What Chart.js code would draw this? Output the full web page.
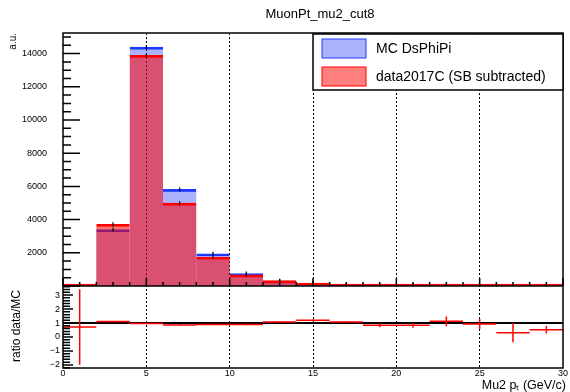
<!DOCTYPE html>
<html>
<head>
<meta charset="utf-8">
<script src="https://cdn.jsdelivr.net/npm/chart.js@4.4.1/dist/chart.umd.min.js"></script>
<style>
  body { margin: 0; background: #fff; }
</style>
</head>
<body>
<canvas id="myChart" width="570" height="392"></canvas>
<script>
// 2 GeV/c wide bins from 0 to 30
const bin_centers = [1, 3, 5, 7, 9, 11, 13, 15, 17, 19, 21, 23, 25, 27, 29];
const bin_width = 2;
const mc_values = [2.8, 3400, 14390, 5820, 1940, 750, 300, 145, 65, 32, 18, 11, 7, 4.5, 3];
const data_values = [2, 3720, 13890, 4990, 1740, 670, 322, 172, 70, 27, 15, 12, 6.5, 1.4, 1.6];
const ratio_values = [0.72, 1.1, 0.965, 0.86, 0.9, 0.89, 1.07, 1.19, 1.07, 0.84, 0.84, 1.12, 0.93, 0.31, 0.52];
const ratio_errors = [2.7, 0.05, 0.02, 0.03, 0.04, 0.05, 0.06, 0.06, 0.07, 0.14, 0.18, 0.35, 0.36, 0.69, 0.27];
const x_ticks = [0, 5, 10, 15, 20, 25, 30];
const y_ticks = [2000, 4000, 6000, 8000, 10000, 12000, 14000];
const ratio_ticks = [-2, -1, 0, 1, 2, 3];

const mc_fill = "rgba(0, 20, 240, 0.33)";
const mc_line = "rgb(30, 60, 255)";
const data_fill = "rgba(255, 0, 0, 0.55)";
const data_line = "rgb(255, 0, 0)";

Chart.defaults.font.family = "'Liberation Sans', Arial, sans-serif";
Chart.defaults.color = "#000";

let mc_points = [];
let data_points = [];
let ratio_bins = [];
let ratio_bars = [];
for (let i = 0; i < bin_centers.length; i++) {
  let c = bin_centers[i];
  mc_points.push({ x: c, y: mc_values[i] });
  data_points.push({ x: c, y: data_values[i] });
  ratio_bins.push({ x: c - bin_width / 2, y: ratio_values[i] });
  ratio_bins.push({ x: c + bin_width / 2, y: ratio_values[i] });
  ratio_bins.push({ x: c + bin_width / 2, y: null });
  ratio_bars.push({ x: c, y: ratio_values[i] - ratio_errors[i] });
  ratio_bars.push({ x: c, y: ratio_values[i] + ratio_errors[i] });
  ratio_bars.push({ x: c, y: null });
}

// frame, inward ticks, legend and texts in ROOT style
const root_pad = {
  id: "root_pad",
  afterDraw(chart) {
    const ctx = chart.ctx;
    const x = chart.scales.x;
    const y = chart.scales.y;
    const yr = chart.scales.yr;
    ctx.save();
    ctx.strokeStyle = "#000";
    ctx.lineWidth = 1.5;
    ctx.beginPath();
    for (let v = 0; v <= y.max; v += 500) {
      let py = y.getPixelForValue(v);
      let len = v % 2000 === 0 ? 17 : 8;
      ctx.moveTo(x.left, py);
      ctx.lineTo(x.left + len, py);
    }
    for (let k = Math.ceil(yr.min * 5); k <= Math.floor(yr.max * 5); k++) {
      let py = yr.getPixelForValue(k / 5);
      let len = k % 5 === 0 ? 10 : 7;
      ctx.moveTo(x.left, py);
      ctx.lineTo(x.left + len, py);
    }
    for (let v = 0; v <= 30; v++) {
      let px = x.getPixelForValue(v);
      let len = v % 5 === 0 ? 8 : 4;
      ctx.moveTo(px, y.bottom);
      ctx.lineTo(px, y.bottom - len);
    }
    ctx.stroke();
    ctx.strokeRect(x.left, y.top, x.right - x.left, yr.bottom - y.top);
    ctx.beginPath();
    ctx.moveTo(x.left, y.bottom);
    ctx.lineTo(x.right, y.bottom);
    ctx.stroke();

    // legend
    ctx.fillStyle = "#fff";
    ctx.fillRect(313, 34, 250, 56);
    ctx.lineWidth = 1.5;
    ctx.strokeRect(313, 34, 250, 56);
    ctx.lineWidth = 1;
    ctx.fillStyle = mc_fill;
    ctx.fillRect(322, 39, 44, 19);
    ctx.strokeStyle = mc_line;
    ctx.strokeRect(322, 39, 44, 19);
    ctx.fillStyle = "rgba(255, 0, 0, 0.5)";
    ctx.fillRect(322, 67, 44, 19);
    ctx.strokeStyle = data_line;
    ctx.strokeRect(322, 67, 44, 19);
    ctx.fillStyle = "#000";
    ctx.font = "14px 'Liberation Sans', Arial, sans-serif";
    ctx.textBaseline = "middle";
    ctx.textAlign = "left";
    ctx.fillText("MC DsPhiPi", 376, 49);
    ctx.fillText("data2017C (SB subtracted)", 376, 77);

    // titles
    ctx.font = "13px 'Liberation Sans', Arial, sans-serif";
    ctx.textAlign = "center";
    ctx.fillText("MuonPt_mu2_cut8", 320, 14);
    ctx.font = "12.5px 'Liberation Sans', Arial, sans-serif";
    ctx.textAlign = "right";
    ctx.textBaseline = "alphabetic";
    ctx.fillText("Mu2 p\u209C (GeV/c)", 566, 389);

    ctx.save();
    ctx.translate(13, 33);
    ctx.rotate(-Math.PI / 2);
    ctx.font = "10px 'Liberation Sans', Arial, sans-serif";
    ctx.textAlign = "right";
    ctx.textBaseline = "middle";
    ctx.fillText("a.u.", 0, 0);
    ctx.restore();

    ctx.save();
    ctx.translate(17, 326);
    ctx.rotate(-Math.PI / 2);
    ctx.font = "12px 'Liberation Sans', Arial, sans-serif";
    ctx.textAlign = "center";
    ctx.textBaseline = "middle";
    ctx.fillText("ratio data/MC", 0, 0);
    ctx.restore();
    ctx.restore();
  }
};

const ctx = document.getElementById("myChart");
new Chart(ctx, {
  type: "bar",
  data: {
    datasets: [
      {
        label: "data2017C (SB subtracted)",
        data: data_points,
        yAxisID: "y",
        backgroundColor: data_fill,
        borderColor: data_line,
        borderWidth: { top: 2, left: 0, right: 0, bottom: 0 },
        borderSkipped: "start",
        grouped: false,
        barPercentage: 1,
        categoryPercentage: 1,
        minBarLength: 2,
        order: 2
      },
      {
        label: "MC DsPhiPi",
        data: mc_points,
        yAxisID: "y",
        backgroundColor: mc_fill,
        borderColor: mc_line,
        borderWidth: { top: 2, left: 0, right: 0, bottom: 0 },
        borderSkipped: "start",
        grouped: false,
        barPercentage: 1,
        categoryPercentage: 1,
        order: 3
      },
      {
        type: "scatter",
        data: data_points,
        yAxisID: "y",
        pointStyle: "line",
        rotation: 90,
        radius: 2,
        borderColor: "#000",
        borderWidth: 1.2,
        order: 1
      },
      {
        type: "scatter",
        data: mc_points,
        yAxisID: "y",
        pointStyle: "line",
        rotation: 90,
        radius: 2,
        borderColor: "#000",
        borderWidth: 1.2,
        order: 1
      },
      {
        type: "line",
        data: ratio_bins,
        yAxisID: "yr",
        borderColor: data_line,
        borderWidth: 1.5,
        pointRadius: 0,
        spanGaps: false,
        order: 0
      },
      {
        type: "line",
        data: ratio_bars,
        yAxisID: "yr",
        borderColor: data_line,
        borderWidth: 1.5,
        pointRadius: 0,
        spanGaps: false,
        order: 0
      }
    ]
  },
  options: {
    responsive: false,
    animation: false,
    layout: { padding: { top: 33, right: 7, left: 0, bottom: 0 } },
    plugins: {
      legend: { display: false },
      title: { display: false },
      tooltip: { enabled: false }
    },
    scales: {
      x: {
        type: "linear",
        min: 0,
        max: 30,
        offset: false,
        afterFit(scale) { scale.height = 24; },
        afterBuildTicks(scale) { scale.ticks = x_ticks.map(v => ({ value: v })); },
        ticks: { font: { size: 9 }, padding: 0, maxRotation: 0, autoSkip: false, callback: (v) => String(v) },
        grid: {
          offset: false,
          drawTicks: false,
          lineWidth: 1,
          color: (c) => (c.tick && (c.tick.value === 0 || c.tick.value === 30)) ? "rgba(0,0,0,0)" : "#000"
        },
        border: { display: false, dash: [2, 2] }
      },
      yr: {
        type: "linear",
        position: "left",
        stack: "pads",
        stackWeight: 82,
        weight: 1,
        min: -2.22,
        max: 3.65,
        afterFit(scale) { scale.width = 63; },
        afterBuildTicks(scale) { scale.ticks = ratio_ticks.map(v => ({ value: v })); },
        ticks: { autoSkip: false, font: { size: 9 }, padding: 3, callback: (v) => String(v).replace("-", "\u2212") },
        grid: {
          drawTicks: false,
          lineWidth: 2,
          color: (c) => (c.tick && c.tick.value === 1) ? "#000" : "rgba(0,0,0,0)"
        },
        border: { display: false }
      },
      y: {
        type: "linear",
        position: "left",
        stack: "pads",
        stackWeight: 253,
        weight: 1,
        min: 0,
        max: 15240,
        afterFit(scale) { scale.width = 63; },
        afterBuildTicks(scale) { scale.ticks = y_ticks.map(v => ({ value: v })); },
        ticks: { autoSkip: false, font: { size: 9 }, padding: 8, callback: (v) => String(v) },
        grid: { display: false },
        border: { display: false }
      }
    }
  },
  plugins: [root_pad]
});
</script>
</body>
</html>
